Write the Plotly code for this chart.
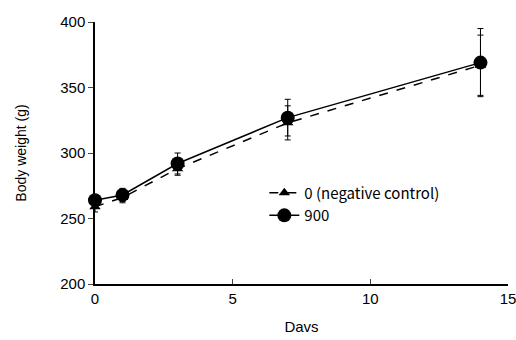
import plotly.graph_objects as go

days = [0, 1, 3, 7, 14]
ctrl_mean = [259, 266, 288, 323, 367]
ctrl_err = [4, 4, 5, 13, 23]
dose_mean = [264, 268, 292, 327, 369]
dose_err = [4, 5, 8, 14, 26]
names = ["0 (negative control)", "900"]

fig = go.Figure()
fig.add_trace(go.Scatter(
    x=days, y=ctrl_mean, name=names[0], mode="lines+markers",
    line=dict(color="black", width=1.5, dash="dash"),
    marker=dict(symbol="triangle-up", size=10, color="black"),
    error_y=dict(type="data", array=ctrl_err, color="black", thickness=1, width=3),
    cliponaxis=False,
))
fig.add_trace(go.Scatter(
    x=days, y=dose_mean, name=names[1], mode="lines+markers",
    line=dict(color="black", width=1.5),
    marker=dict(symbol="circle", size=14, color="black"),
    error_y=dict(type="data", array=dose_err, color="black", thickness=1, width=3),
    cliponaxis=False,
))

fig.update_layout(
    width=516, height=340,
    margin=dict(l=95, r=8, t=22, b=56),
    paper_bgcolor="white", plot_bgcolor="white",
    font=dict(family="Liberation Sans, Arial, sans-serif", size=15, color="black"),
    showlegend=True,
    legend=dict(x=0.41, y=0.41, xanchor="left", yanchor="top",
                bgcolor="rgba(0,0,0,0)", tracegroupgap=0,
                font=dict(family="Noto Sans CJK JP", size=15),
                itemwidth=30),
)
fig.update_xaxes(
    range=[0, 15], dtick=5, tick0=0, ticks="inside", ticklen=5,
    showline=True, linecolor="black", linewidth=1.5, showgrid=False, zeroline=False,
    automargin=False, ticklabeloverflow="allow",
    title=dict(text="Davs", standoff=16, font=dict(size=15)),
)
fig.update_yaxes(
    range=[200, 400], dtick=50, tick0=200, ticks="outside", ticklen=5,
    showline=True, linecolor="black", linewidth=1.5, showgrid=False, zeroline=False,
    automargin=False, ticklabeloverflow="allow",
    title=dict(text="Body weight (g)", standoff=30, font=dict(size=14)),
)

fig.write_html(
    "out.html",
    config={"displayModeBar": False},
    post_script="document.body.style.margin='0';document.body.style.overflow='hidden';",
)
